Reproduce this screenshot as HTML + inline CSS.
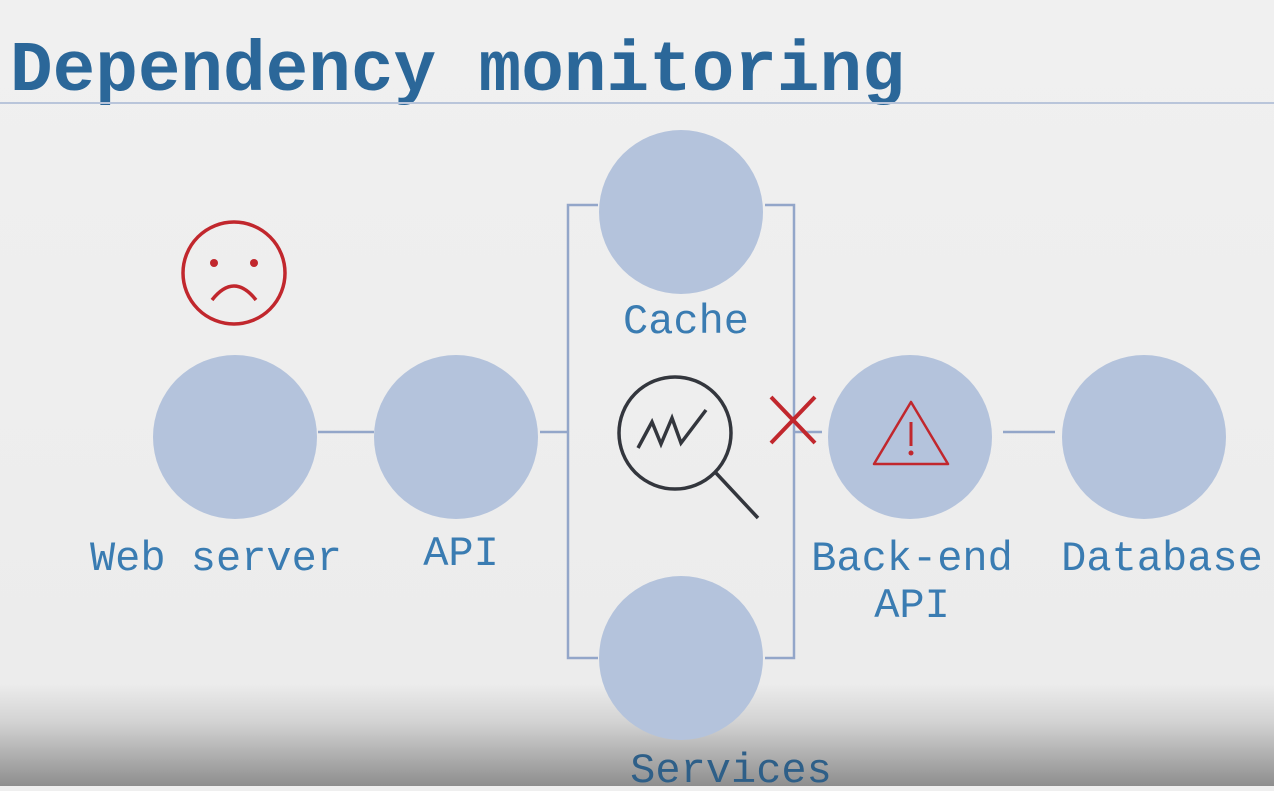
<!DOCTYPE html>
<html><head><meta charset="utf-8"><style>
html,body{margin:0;padding:0;}
body{width:1274px;height:786px;overflow:hidden;background:#efefef;}
</style></head><body>
<svg width="1274" height="786" viewBox="0 0 1274 786" xmlns="http://www.w3.org/2000/svg">
<defs>
<linearGradient id="bg" x1="0" y1="0" x2="0" y2="1">
<stop offset="0" stop-color="#f0f0f0"/>
<stop offset="0.87" stop-color="#ececec"/>
<stop offset="0.92" stop-color="#d2d2d2"/>
<stop offset="1" stop-color="#8e8e8e"/>
</linearGradient>
</defs>
<rect width="1274" height="786" fill="url(#bg)"/>
<text x="10" y="90" font-family="Liberation Mono, monospace" font-weight="bold" font-size="71" fill="#2b6799">Dependency monitoring</text>
<line x1="0" y1="103" x2="1274" y2="103" stroke="#b9c5da" stroke-width="2"/>
<g stroke="#93a6c9" stroke-width="2.5" fill="none">
<line x1="318" y1="432" x2="374" y2="432"/>
<line x1="540" y1="432" x2="568" y2="432"/>
<polyline points="598,205 568,205 568,658 598,658"/>
<polyline points="765,205 794,205 794,658 765,658"/>
<line x1="794" y1="432" x2="822" y2="432"/>
<line x1="1003" y1="432" x2="1055" y2="432"/>
</g>
<g fill="#b4c3dc">
<circle cx="235" cy="437" r="82"/>
<circle cx="456" cy="437" r="82"/>
<circle cx="681" cy="212" r="82"/>
<circle cx="681" cy="658" r="82"/>
<circle cx="910" cy="437" r="82"/>
<circle cx="1144" cy="437" r="82"/>
</g>
<g font-family="Liberation Mono, monospace" font-size="42" fill="#3a7cb2" text-anchor="middle">
<text x="216" y="570">Web server</text>
<text x="461" y="565">API</text>
<text x="686" y="333">Cache</text>
<text x="912" y="570">Back-end</text>
<text x="912" y="617">API</text>
<text x="1162" y="570">Database</text>
<text x="731" y="782" fill="#2e5f88">Services</text>
</g>
<g stroke="#c1272d" stroke-width="3.5" fill="none">
<circle cx="234" cy="273" r="51"/>
<path d="M212,300 Q234,272 256,300"/>
</g>
<circle cx="214" cy="263" r="4" fill="#c1272d"/>
<circle cx="254" cy="263" r="4" fill="#c1272d"/>
<g stroke="#c1272d" stroke-width="4">
<line x1="771" y1="397" x2="815" y2="443"/>
<line x1="815" y1="397" x2="771" y2="443"/>
</g>
<g stroke="#c1272d" stroke-width="2.5" fill="none">
<polygon points="911,402 948,464 874,464" stroke-linejoin="round"/>
</g>
<line x1="911" y1="422" x2="911" y2="446" stroke="#c1272d" stroke-width="3"/>
<circle cx="911" cy="453" r="2.5" fill="#c1272d"/>
<g stroke="#33363d" stroke-width="3.5" fill="none">
<circle cx="675" cy="433" r="56"/>
<line x1="716" y1="473" x2="758" y2="518"/>
<polyline points="638,448 652,422 661,444 672,418 681,443 706,410"/>
</g>
</svg>
</body></html>
